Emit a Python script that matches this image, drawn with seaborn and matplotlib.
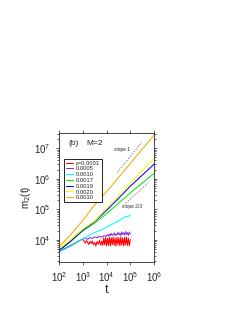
import numpy as np
import pandas as pd
import matplotlib
matplotlib.use("Agg")
import matplotlib.pyplot as plt
import seaborn as sns

# --- data (log10 values) ---
logt_smooth = [2.0, 2.5, 3.0, 3.5, 4.0, 4.5, 5.0, 5.5, 6.0]
logm_0030 = [3.78, 4.18, 4.64, 5.15, 5.58, 6.04, 6.50, 6.97, 7.43]
logm_0020 = [3.72, 4.02, 4.36, 4.62, 5.05, 5.45, 5.86, 6.26, 6.67]
logm_0019 = [3.66, 3.97, 4.32, 4.60, 4.97, 5.36, 5.76, 6.12, 6.48]
logm_0017 = [3.64, 3.95, 4.30, 4.55, 4.86, 5.20, 5.54, 5.86, 6.18]

logt_0010 = [2.0, 2.25, 2.5, 2.75, 3.0, 3.25, 3.5, 3.75, 4.0, 4.25, 4.5, 4.7, 4.8, 4.9, 5.0]
logm_0010 = [3.62, 3.70, 3.80, 3.92, 4.04, 4.14, 4.24, 4.32, 4.42, 4.52, 4.62, 4.72, 4.78, 4.76, 4.82]

logt_0005 = [2.0, 2.25, 2.5, 2.75, 3.0, 3.1, 3.2, 3.3, 3.4, 3.5, 3.6, 3.7, 3.8, 3.9, 4.0,
             4.04, 4.08, 4.12, 4.16, 4.20, 4.24, 4.28, 4.32, 4.36, 4.40, 4.44, 4.48, 4.52,
             4.56, 4.60, 4.64, 4.68, 4.72, 4.76, 4.80, 4.84, 4.88, 4.92, 4.96, 5.00]
logm_0005 = [3.62, 3.72, 3.82, 3.93, 4.04, 4.07, 4.02, 4.08, 4.05, 4.10, 4.07, 4.12, 4.09, 4.14, 4.12,
             4.17, 4.13, 4.19, 4.14, 4.21, 4.15, 4.18, 4.23, 4.14, 4.20, 4.16, 4.25, 4.17,
             4.22, 4.15, 4.26, 4.18, 4.23, 4.16, 4.27, 4.18, 4.24, 4.15, 4.26, 4.20]

logt_0001 = [2.0, 2.1, 2.2, 2.3, 2.4, 2.5, 2.6, 2.7, 2.8, 2.9, 3.0, 3.05, 3.1, 3.15, 3.2,
             3.25, 3.3, 3.35, 3.4, 3.45, 3.5, 3.55, 3.6, 3.65, 3.7, 3.75, 3.80,
             3.84, 3.88, 3.92, 3.96, 4.00, 4.04, 4.08, 4.12, 4.16, 4.20, 4.24, 4.28,
             4.32, 4.36, 4.40, 4.44, 4.48, 4.52, 4.56, 4.60, 4.64, 4.68, 4.72, 4.76,
             4.80, 4.84, 4.88, 4.92, 4.96, 5.00]
logm_0001 = [3.62, 3.66, 3.70, 3.74, 3.78, 3.82, 3.86, 3.90, 3.95, 3.99, 4.02, 3.96, 3.90, 3.98, 3.93,
             3.85, 3.95, 3.88, 3.97, 3.84, 3.92, 3.80, 3.95, 3.86, 3.99, 3.83, 3.96,
             3.82, 4.06, 3.84, 4.08, 3.81, 4.05, 3.83, 4.09, 3.80, 4.07, 3.85, 4.10,
             3.82, 4.06, 3.80, 4.09, 3.84, 4.07, 3.81, 4.10, 3.83, 4.06, 3.80, 4.08,
             3.84, 4.09, 3.82, 4.06, 3.81, 4.02]

eps_labels = ["ε=0.0001", "0.0005", "0.0010", "0.0017", "0.0019", "0.0020", "0.0030"]
eps_colors = ["#ff0000", "#8a2be2", "#00ffff", "#00ee00", "#0000ff", "#ffff00", "#ffa500"]

slope1_logt = [4.45, 5.48]
slope1_logm = [6.21, 7.20]
slope23_logt = [4.80, 5.74]
slope23_logm = [5.20, 5.85]

series = [
    (logt_0001, logm_0001),
    (logt_0005, logm_0005),
    (logt_0010, logm_0010),
    (logt_smooth, logm_0017),
    (logt_smooth, logm_0019),
    (logt_smooth, logm_0020),
    (logt_smooth, logm_0030),
]

frames = []
for lab, (lt, lm) in zip(eps_labels, series):
    frames.append(pd.DataFrame({"t": 10 ** np.array(lt), "m": 10 ** np.array(lm), "eps": lab}))
df = pd.concat(frames, ignore_index=True)

sns.set_style("ticks")
plt.rcParams["font.family"] = ["Liberation Sans", "DejaVu Sans"]

fig = plt.figure(figsize=(2.4, 3.1), dpi=100)
ax = fig.add_axes([0.246, 0.155, 0.396, 0.416])

sns.lineplot(data=df, x="t", y="m", hue="eps", hue_order=eps_labels,
             palette=eps_colors, sort=False, estimator=None, linewidth=0.75, ax=ax)

ax.plot(10 ** np.array(slope1_logt), 10 ** np.array(slope1_logm), ls=(0, (2, 1.5)),
        color="gray", lw=0.6)
ax.plot(10 ** np.array(slope23_logt), 10 ** np.array(slope23_logm), ls=(0, (2, 1.5)),
        color="gray", lw=0.6)

ax.set_xscale("log")
ax.set_yscale("log")
ax.set_xlim(1e2, 1e6)
ax.set_ylim(10 ** 3.28, 10 ** 7.5)
ax.set_xticks([1e2, 1e3, 1e4, 1e5, 1e6])
ax.set_yticks([1e4, 1e5, 1e6, 1e7])
ax.tick_params(which="both", direction="out", top=True, right=True, labelsize=7,
               width=0.5)
ax.tick_params(which="major", length=2.5)
ax.tick_params(which="minor", length=1.5)
for s in ax.spines.values():
    s.set_linewidth(0.6)

ax.set_xlabel("t", fontsize=9, labelpad=0)
ax.set_ylabel("m$_2$(t)", fontsize=7, labelpad=1)

ax.text(0.10, 0.92, "(b)", transform=ax.transAxes, fontsize=6, va="center")
ax.text(0.29, 0.92, "M=2", transform=ax.transAxes, fontsize=6, va="center")
ax.text(0.58, 0.87, "slope 1", transform=ax.transAxes, fontsize=3.5, va="center")
ax.text(0.66, 0.43, "slope 2/3", transform=ax.transAxes, fontsize=3.5, va="center")

leg = ax.legend(loc="upper left", bbox_to_anchor=(0.05, 0.80), fontsize=4.2,
                frameon=True, fancybox=False, framealpha=1, edgecolor="black",
                handlelength=1.3, borderpad=0.3, labelspacing=0.12,
                handletextpad=0.5, borderaxespad=0)
leg.get_frame().set_linewidth(0.6)

fig.savefig("out.png", dpi=100)
